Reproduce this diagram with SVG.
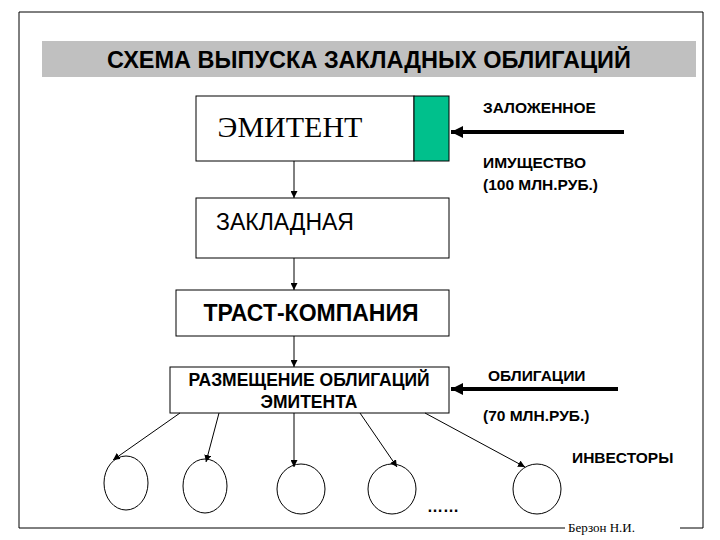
<svg xmlns="http://www.w3.org/2000/svg" width="720" height="540" viewBox="0 0 720 540">
<style>
.s{font-family:"Liberation Sans",Arial,sans-serif;font-weight:bold;fill:#000}
.n{font-family:"Liberation Sans",Arial,sans-serif;fill:#000}
.b{fill:#fff;stroke:#000;stroke-width:1}
.c{stroke:#000;stroke-width:1;fill:none}
.t{stroke:#000;stroke-width:4;fill:none}
</style>
<defs>
<marker id="a" viewBox="0 0 10 10" refX="10" refY="5" markerWidth="7" markerHeight="7" orient="auto" markerUnits="userSpaceOnUse"><path d="M0,0L10,5L0,10z"/></marker>
<marker id="A" viewBox="0 0 10 10" refX="10" refY="5" markerWidth="3" markerHeight="3" orient="auto"><path d="M0,0L10,5L0,10z"/></marker>
</defs>
<rect width="720" height="540" fill="#fff"/>
<path d="M565,528H19V12H703V528H680" class="c"/>
<text x="568" y="532" font-family="Liberation Serif,serif" font-size="13">Берзон Н.И.</text>
<rect x="42" y="41" width="654" height="36" fill="#c0c0c0"/>
<text x="369" y="68" class="s" font-size="23.5" text-anchor="middle">СХЕМА ВЫПУСКА ЗАКЛАДНЫХ ОБЛИГАЦИЙ</text>
<g id="emitent"><rect x="196" y="96" width="218" height="65" class="b"/><rect x="414" y="96" width="35" height="65" fill="#00c08c" stroke="#000"/>
<text x="290" y="137" font-family="Liberation Serif,serif" font-size="30" text-anchor="middle">ЭМИТЕНТ</text></g>
<g id="zakladnaya"><rect x="196" y="198" width="253" height="60" class="b"/><text x="216" y="230" class="n" font-size="23">ЗАКЛАДНАЯ</text></g>
<g id="trast"><rect x="176" y="290" width="273" height="46" class="b"/><text x="311" y="321" class="s" font-size="23" text-anchor="middle">ТРАСТ-КОМПАНИЯ</text></g>
<g id="razm"><rect x="170" y="367" width="279" height="46" class="b"/><text x="309" y="386" class="s" font-size="17.5" text-anchor="middle">РАЗМЕЩЕНИЕ ОБЛИГАЦИЙ</text><text x="309" y="408" class="s" font-size="17.5" text-anchor="middle">ЭМИТЕНТА</text></g>
<g class="s" font-size="15.5">
<text x="483" y="113">ЗАЛОЖЕННОЕ</text><text x="483" y="168">ИМУЩЕСТВО</text><text x="483" y="190">(100 МЛН.РУБ.)</text>
<text x="488" y="381">ОБЛИГАЦИИ</text><text x="483" y="421">(70 МЛН.РУБ.)</text><text x="572" y="463">ИНВЕСТОРЫ</text>
</g>
<g id="investors" class="c">
<ellipse cx="126" cy="483" rx="22" ry="27"/><ellipse cx="205" cy="486" rx="22" ry="27"/><ellipse cx="301" cy="489" rx="24" ry="25"/><ellipse cx="392" cy="489" rx="24" ry="25"/><ellipse cx="537" cy="489" rx="24" ry="25"/>
</g>
<text x="427" y="512" class="s" font-size="16">……</text>
<g id="connectors" class="c" marker-end="url(#a)">
<path d="M294,161V198"/><path d="M294,258V290"/><path d="M294,336V367"/>
<path d="M180,413L113,460"/><path d="M219,413L206,462"/><path d="M294,413V467"/><path d="M360,413L397,467"/><path d="M425,413L525,467"/>
<path d="M624,132H451" class="t" marker-end="url(#A)"/><path d="M618,389H451" class="t" marker-end="url(#A)"/>
</g>
</svg>
